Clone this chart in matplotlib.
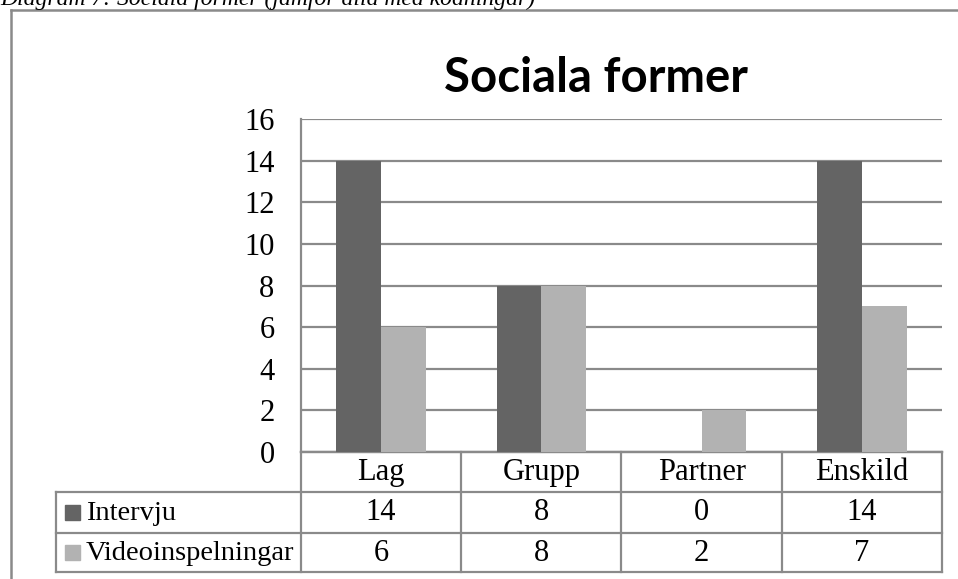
import matplotlib.pyplot as plt
from matplotlib.patches import Rectangle

categories = ["Lag", "Grupp", "Partner", "Enskild"]
series_names = ["Intervju", "Videoinspelningar"]
intervju = [14, 8, 0, 14]
video = [6, 8, 2, 7]
yticks = [0, 2, 4, 6, 8, 10, 12, 14, 16]

colors = ["#646464", "#b2b2b2"]
grid_col = "#8a8a8a"
serif = "Liberation Serif"

W, H = 958, 579
fig = plt.figure(figsize=(W / 100, H / 100), dpi=100)

# pixel layout of the plot area
L, R, T, B = 301, 942, 119.3, 452

# overlay in pixel coordinates for frame, caption and data table
lay = fig.add_axes([0, 0, 1, 1])
lay.set_xlim(0, W)
lay.set_ylim(H, 0)
lay.axis("off")

ax = fig.add_axes([L / W, (H - B) / H, (R - L) / W, (B - T) / H])
ax.set_zorder(2)
ax.patch.set_alpha(0)

# bars
bw = 0.28
x = list(range(len(categories)))
ax.bar([i - bw / 2 for i in x], intervju, bw, color=colors[0], zorder=3)
ax.bar([i + bw / 2 for i in x], video, bw, color=colors[1], zorder=3)

ax.set_xlim(-0.5, len(categories) - 0.5)
ax.set_ylim(0, 16)
ax.set_yticks(yticks)
ax.set_yticklabels([str(v) for v in yticks], fontfamily=serif, fontsize=22)
ax.tick_params(axis="y", length=0, pad=19)
ax.set_xticks([])
ax.yaxis.grid(True, color=grid_col, linewidth=1.6)
ax.set_axisbelow(True)
for s in ["top", "right"]:
    ax.spines[s].set_visible(False)
for s in ["left", "bottom"]:
    ax.spines[s].set_color(grid_col)
    ax.spines[s].set_linewidth(1.6)

# outer chart frame
lay.plot([11, 11], [H + 5, 10], color="#8a8a8a", lw=1.8, clip_on=False)
lay.plot([11, W + 5], [10, 10], color="#8a8a8a", lw=1.8, clip_on=False)

# caption (cut off at the top of the picture)
lay.text(0, 5, "Diagram 7: Sociala former (jämför alla med kodningar)",
         fontfamily=serif, fontstyle="italic", fontsize=17, va="baseline", ha="left")

# chart title
lay.text(596, 92, "Sociala former", fontfamily="Lato", fontweight="bold",
         fontsize=34, ha="center", va="baseline")

# data table
rows = [452, 491.5, 532.5, 572]
cw = (R - L) / len(categories)
tl = 56
lc = dict(color=grid_col, lw=1.6)
lay.plot([L, R], [rows[0], rows[0]], **lc)
for yy in rows[1:]:
    lay.plot([tl, R], [yy, yy], **lc)
for i in range(len(categories) + 1):
    lay.plot([L + i * cw, L + i * cw], [rows[0], rows[3]], **lc)
lay.plot([tl, tl], [rows[1], rows[3]], **lc)

for i, c in enumerate(categories):
    cx = L + (i + 0.5) * cw
    lay.text(cx, (rows[0] + rows[1]) / 2 + 1, c, fontfamily=serif, fontsize=22,
             ha="center", va="center")
    lay.text(cx, (rows[1] + rows[2]) / 2 + 1, str(intervju[i]), fontfamily=serif,
             fontsize=22, ha="center", va="center")
    lay.text(cx, (rows[2] + rows[3]) / 2 + 1, str(video[i]), fontfamily=serif,
             fontsize=22, ha="center", va="center")

for k, name in enumerate(series_names):
    cy = (rows[k + 1] + rows[k + 2]) / 2
    lay.add_patch(Rectangle((65, cy - 7.5), 15, 15, color=colors[k]))
    lay.text(86, cy + 1, name, fontfamily=serif, fontsize=20.5, ha="left", va="center")

fig.savefig("out.png", dpi=100)
